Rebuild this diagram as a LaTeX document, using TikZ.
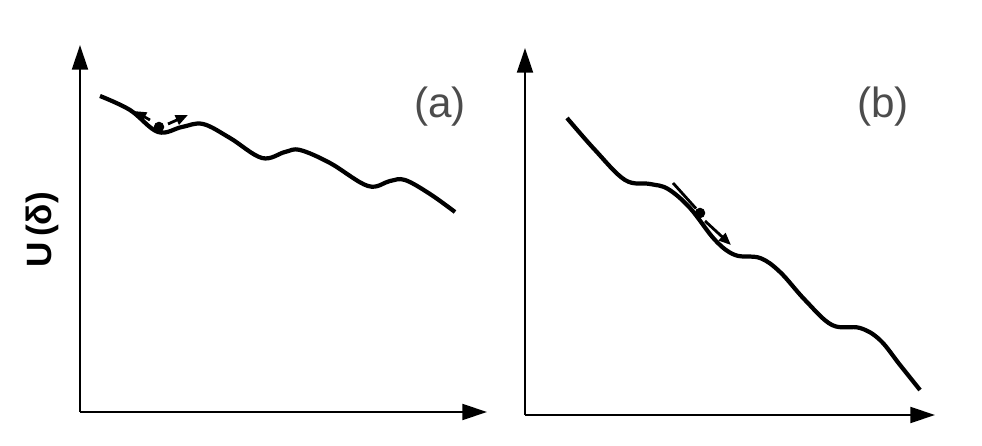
\documentclass[tikz,border=0pt]{standalone}
\usepackage{fontspec}
\setmainfont{Liberation Sans}
\usetikzlibrary{arrows.meta}
\tikzset{
  axis/.style={line width=0.7pt, -{Triangle[length=7pt,width=4.5pt]}},
  curve/.style={line width=1.2pt, line join=round},
  push/.style={line width=0.8pt, -{Triangle[length=3.5pt,width=2.8pt]}},
  ball/.style={circle, fill=black, inner sep=0pt, minimum size=3pt},
  panel/.style={text=black!70, font=\fontsize{12}{14}\selectfont}
}
\begin{document}
\begin{tikzpicture}[x=0.01cm, y=-0.01cm]
  \useasboundingbox (0,0) rectangle (982,446);
  % panel (a): trapped in a well
  \coordinate (oa) at (80,412);
  \coordinate (ya) at (80,45);
  \coordinate (xa) at (487,412);
  \draw[axis] (oa) -- (ya);
  \draw[axis] (oa) -- (xa);
  \draw[curve] plot[smooth, tension=0.6] coordinates {(100,96) (130,110) (158,132) (182,127) (203,124) (230,138) (262,158) (285,152) (300,150) (330,163) (368,186) (390,181) (405,180) (430,194) (455,212)};
  \node[ball] (balla) at (159,127) {};
  \coordinate (la0) at (150,120);
  \coordinate (la) at (134,111);
  \coordinate (ra0) at (168,124);
  \coordinate (ra) at (188,115);
  \draw[push] (la0) -- (la);
  \draw[push] (ra0) -- (ra);
  \node[panel] (laba) at (440,107) {(a)};
  % panel (b): sliding down
  \coordinate (ob) at (525,415);
  \coordinate (yb) at (525,48);
  \coordinate (xb) at (935,415);
  \draw[axis] (ob) -- (yb);
  \draw[axis] (ob) -- (xb);
  \draw[curve] plot[smooth, tension=0.6] coordinates {(567,118) (595,150) (625,180) (650,184) (668,189) (690,208) (715,240) (735,255) (760,258) (780,272) (805,300) (832,325) (860,328) (880,340) (900,365) (920,390)};
  \node[ball] (ballb) at (700,213) {};
  \coordinate (tb) at (673,183);
  \coordinate (hb0) at (705,221);
  \coordinate (hb) at (731,245);
  \draw[line width=0.8pt] (tb) -- (ballb);
  \draw[push] (hb0) -- (hb);
  \node[panel] (labb) at (883,107) {(b)};
  % ordinate label
  \node[rotate=90, font=\bfseries\fontsize{10}{12}\selectfont] (ylab) at (42,230) {U\,(δ)};
\end{tikzpicture}
\end{document}
